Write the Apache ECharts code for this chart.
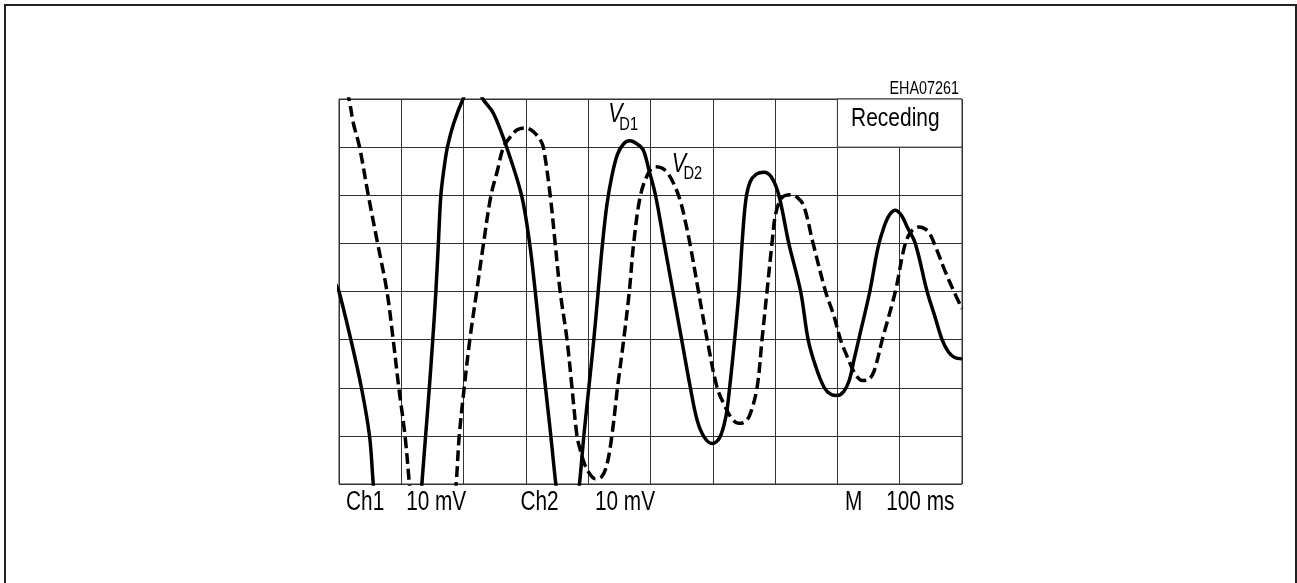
<!DOCTYPE html>
<html><head><meta charset="utf-8">
<script src="https://cdn.jsdelivr.net/npm/echarts/dist/echarts.min.js"></script>
<style>html,body{margin:0;padding:0;background:#fff}#c{width:1297px;height:583px}</style>
</head><body><div id="c"></div>
<script>
// Screen divisions (oscilloscope graticule)
const xRange = [0, 10];
const yRange = [0, 8];

// V_D1 trace (solid), [time div, voltage div]
const vd1 = [[-0.05,4.15],[0,4.0],[0.19,3.0],[0.36,2.0],[0.49,1.0],[0.55,0],[0.62,-1.0],[0.94,-2.2],[1.27,-1.0],
  [1.33,0],[1.39,1],[1.45,2],[1.505,3],[1.555,4],[1.595,5],[1.635,6],[1.685,6.55],[1.74,7],[1.84,7.49],[1.99,8],[2.15,8.4],
  [2.31,8],[2.48,7.70],[2.69,7],[2.93,6],[3.06,5],[3.15,4],[3.23,3],[3.315,2],[3.40,1],[3.48,0],[3.56,-0.8],[3.67,-1.1],[3.78,-0.8],
  [3.86,0],[3.93,1],[4.01,2],[4.09,3],[4.16,4],[4.23,5],[4.30,5.8],[4.38,6.4],[4.47,6.85],[4.57,7.07],[4.67,7.13],[4.78,7.07],
  [4.88,6.95],[4.98,6.5],[5.08,6.0],[5.22,5.0],[5.36,4.0],[5.50,3.0],[5.64,2.0],[5.75,1.32],[5.86,0.98],[5.99,0.84],
  [6.11,0.96],[6.21,1.4],[6.27,2],[6.35,3],[6.42,4],[6.47,5],[6.53,5.9],[6.60,6.28],[6.70,6.44],[6.82,6.48],[6.94,6.38],[7.06,6.0],
  [7.22,5],[7.41,4],[7.53,3],[7.65,2.45],[7.79,2.0],[7.90,1.86],[8.0,1.84],[8.10,1.92],[8.19,2.15],[8.27,2.6],[8.36,3.1],
  [8.52,4],[8.65,4.9],[8.75,5.35],[8.84,5.6],[8.93,5.69],[9.03,5.58],[9.12,5.34],[9.25,5],[9.44,4],[9.56,3.5],[9.68,3.0],
  [9.78,2.75],[9.88,2.63],[10.0,2.60]];

// V_D2 trace (dashed)
const vd2 = [[0.05,8.5],[0.16,8],[0.23,7.5],[0.33,7],[0.47,6],[0.62,5],[0.77,4],[0.87,3],[0.96,2],[1.06,1],[1.13,0],
  [1.2,-1],[1.5,-2],[1.8,-1],[1.88,0],[1.93,1],[2.01,2],[2.10,3],[2.21,4],[2.32,5],[2.44,6],[2.54,6.5],[2.64,7],[2.75,7.21],
  [2.86,7.36],[2.99,7.40],[3.12,7.32],[3.23,7.15],[3.28,7],[3.39,6],[3.47,5],[3.55,4],[3.66,3],[3.74,2],[3.82,1],[3.87,0.72],
  [3.94,0.42],[4.03,0.2],[4.11,0.11],[4.22,0.16],[4.30,0.4],[4.38,1],[4.47,2],[4.57,3],[4.66,4],[4.73,5],[4.84,6],[4.97,6.47],
  [5.08,6.59],[5.19,6.56],[5.28,6.45],[5.38,6.22],[5.48,5.88],[5.56,5.45],[5.64,4.95],[5.77,4],[5.91,3],[6.07,2],[6.20,1.6],
  [6.30,1.37],[6.41,1.26],[6.50,1.28],[6.59,1.42],[6.71,2],[6.79,3],[6.87,4],[6.95,5],[7.01,5.62],[7.11,5.95],[7.25,6.01],
  [7.36,5.95],[7.46,5.78],[7.61,5],[7.81,4],[7.94,3.51],[8.05,3],[8.16,2.64],[8.28,2.3],[8.40,2.15],[8.50,2.17],[8.59,2.35],
  [8.72,3],[8.93,4],[9.09,5],[9.20,5.27],[9.31,5.34],[9.41,5.30],[9.49,5.18],[9.57,4.95],[9.72,4.45],[9.87,4],[10.0,3.64]];

// Texts
const bottomLabels = ['Ch1', '10 mV', 'Ch2', '10 mV', 'M', '100 ms'];
const bottomLabelAt = [0.42, 1.56, 3.22, 4.59, 8.26, 9.33];
const boxLabel = 'Receding';
const figureId = 'EHA07261';
const traceNames = [['V', 'D1'], ['V', 'D2']];

const FONT = '"Liberation Sans", Arial, Helvetica, sans-serif';
const chart = echarts.init(document.getElementById('c'), null, {renderer: 'canvas'});
const gridLine = {show: true, lineStyle: {color: '#333', width: 1}};
chart.setOption({
  animation: false,
  backgroundColor: '#fff',
  grid: {left: 339, top: 99, width: 623, height: 385, show: true, borderColor: '#333', borderWidth: 1, backgroundColor: 'transparent'},
  xAxis: {type: 'value', min: xRange[0], max: xRange[1], interval: 1, axisLine: {show: false}, axisTick: {show: false}, axisLabel: {show: false}, splitLine: gridLine},
  yAxis: {type: 'value', min: yRange[0], max: yRange[1], interval: 1, axisLine: {show: false}, axisTick: {show: false}, axisLabel: {show: false}, splitLine: gridLine},
  series: [
    {type: 'line', name: 'VD1', data: vd1, symbol: 'none', smooth: 0.35, clip: true,
     lineStyle: {color: '#000', width: 3.5, cap: 'butt', join: 'round'},
     markArea: {silent: true, itemStyle: {color: '#fff', borderColor: '#333', borderWidth: 1},
       label: {show: false}, data: [[{coord: [8, 7]}, {coord: [10, 8]}]]}},
    {type: 'line', name: 'VD2', data: vd2, symbol: 'none', smooth: 0.35, clip: true,
     lineStyle: {color: '#000', width: 3.5, type: [11, 5], cap: 'butt', join: 'round'}}
  ]
});

function px(x, y) { return chart.convertToPixel({gridIndex: 0}, [x, y]); }
function txt(text, p, opt) {
  return Object.assign({type: 'text', x: p[0], y: p[1], scaleX: opt.scaleX || 0.77, z: 100,
    style: {text: text, font: (opt.italic ? 'italic ' : '') + opt.size + 'px ' + FONT, fill: '#000',
      align: opt.align || 'center', textAlign: opt.align || 'center', verticalAlign: 'middle', textVerticalAlign: 'middle'}});
}
const g = [];
g.push({type: 'rect', shape: {x: 5, y: 5, width: 1291, height: 640}, style: {fill: 'none', stroke: '#222', lineWidth: 2}, z: 100});
bottomLabels.forEach((t, i) => g.push(txt(t, px(bottomLabelAt[i], -0.38), {size: 27})));
g.push(txt(boxLabel, px(8.93, 7.59), {size: 26.5, scaleX: 0.79}));
g.push(txt(figureId, px(9.95, 8.21), {size: 17.5, scaleX: 0.82, align: 'right'}));
// V_D1
g.push(txt(traceNames[0][0], px(4.32, 7.67), {size: 27, italic: true, align: 'left', scaleX: 0.8}));
g.push(txt(traceNames[0][1], px(4.50, 7.46), {size: 19, align: 'left', scaleX: 0.77}));
// V_D2
g.push(txt(traceNames[1][0], px(5.34, 6.63), {size: 27, italic: true, align: 'left', scaleX: 0.8}));
g.push(txt(traceNames[1][1], px(5.53, 6.44), {size: 19, align: 'left', scaleX: 0.77}));
chart.setOption({graphic: g});
</script></body></html>
